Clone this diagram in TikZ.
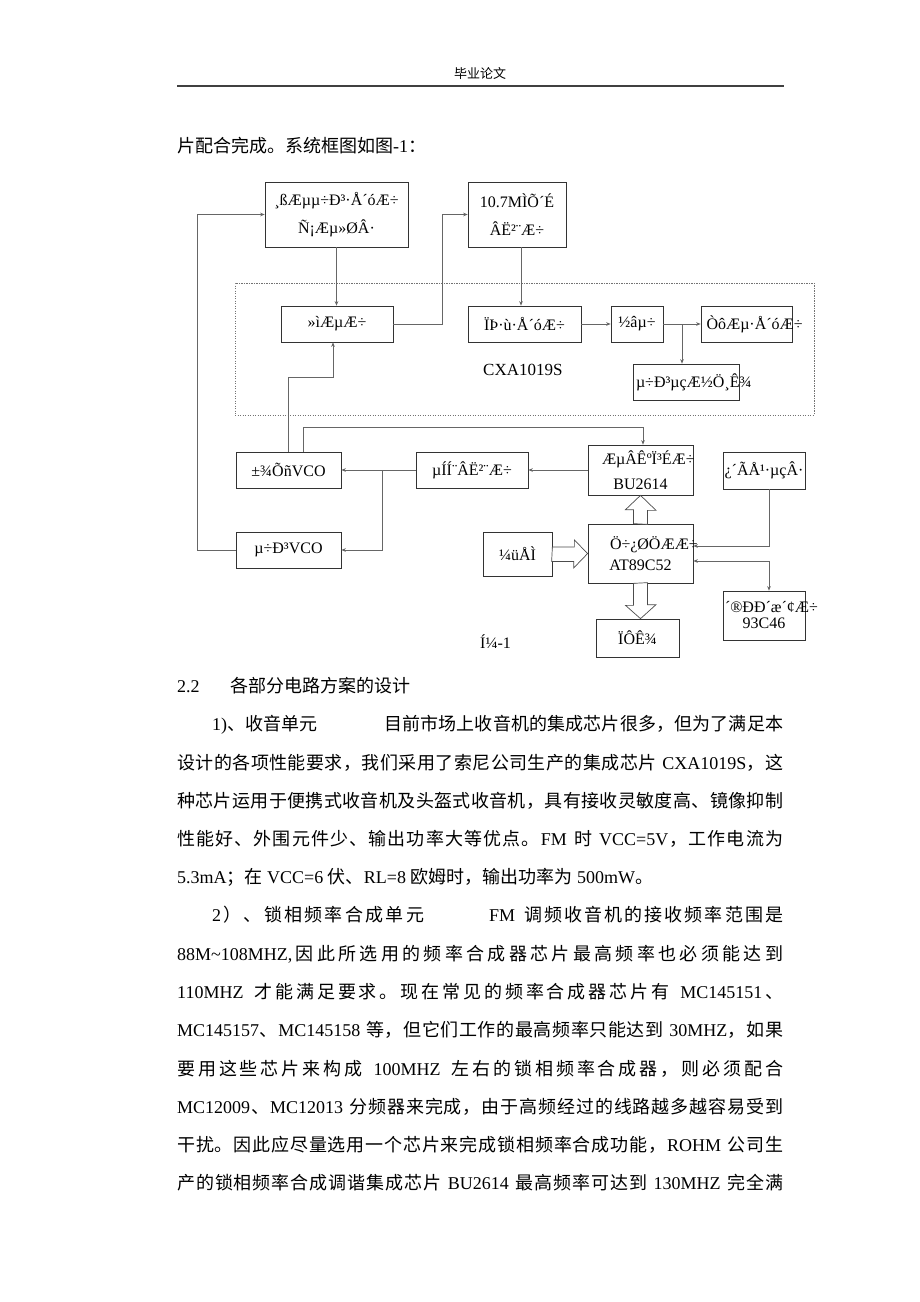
\documentclass[tikz,border=0pt]{standalone}
\usepackage{fontspec}
\setmainfont{Liberation Serif}
\newfontfamily\zhfont{Noto Sans CJK SC}
\usetikzlibrary{arrows.meta,calc}
% Chinese characters pick their own font
\XeTeXinterchartokenstate=1
\chardef\zhclass=10
\newcount\zhcnt
\zhcnt="4E00
\loop
  \XeTeXcharclass\zhcnt=\zhclass
  \advance\zhcnt by 1
\ifnum\zhcnt<"A000 \repeat
\XeTeXcharclass"3001=\zhclass
\XeTeXcharclass"3002=\zhclass
\XeTeXcharclass"FF0C=\zhclass
\XeTeXcharclass"FF1A=\zhclass
\XeTeXcharclass"FF1B=\zhclass
\XeTeXcharclass"FF09=\zhclass
\XeTeXinterchartoks 0 \zhclass={\zhfont\hskip0pt plus 1pt}
\XeTeXinterchartoks \zhclass 0={\hskip0pt plus 1pt\rmfamily}
\XeTeXinterchartoks 4095 \zhclass={\zhfont}
\XeTeXinterchartoks \zhclass 4095={\rmfamily}
\XeTeXinterchartoks \zhclass \zhclass={\hskip0pt plus 1pt}

\begin{document}
\begin{tikzpicture}[x=1pt, y=-1pt,
  blk/.style={draw=black!80, line width=0.7pt, inner sep=0pt, align=center, font=\fontsize{16}{19}\selectfont},
  frame/.style={draw=black!55, line width=0.7pt, dash pattern=on 1.2pt off 1.3pt, inner sep=0pt},
  con/.style={draw=black!60, line width=0.7pt, -{Stealth[length=4.5pt, width=3.6pt]}},
  fat/.style={draw=black!70, line width=0.7pt, fill=white, line join=miter},
  lbl/.style={inner sep=0pt, font=\fontsize{16}{19}\selectfont},
  bodyln/.style={anchor=base west, inner sep=0pt, font=\fontsize{18}{22}\selectfont}]
\fill[white] (0,0) rectangle (920,1302);
\useasboundingbox (0,0) rectangle (920,1302);
% Page header
\node[inner sep=0pt, font=\fontsize{13}{15}\selectfont] (hdr) at (480,74) {毕业论文};
\draw[line width=1.5pt, black!75] (177,86) -- (784,86);
\node[bodyln] (intro) at (177,152) {片配合完成。系统框图如图-1：};
% Receiver chip
\node[frame, minimum width=579, minimum height=132] (cxa) at (524.5,349) {};
\node[blk, minimum width=143, minimum height=65] (hfamp) at (336.5,214.5) {¸ßÆµµ÷Ð³·Å´óÆ÷\\[9pt]Ñ¡Æµ»ØÂ·};
\node[blk, minimum width=98, minimum height=65] (cerflt) at (517,214.5) {10.7MÌÕ´É\\[9pt]ÂË²¨Æ÷};
\node[blk, minimum width=112, minimum height=36] (mixer) at (337,324) {»ìÆµÆ÷};
\node[blk, minimum width=113, minimum height=36] (limamp) at (524.5,324) {ÏÞ·ù·Å´óÆ÷};
\node[blk, minimum width=52, minimum height=36] (demod) at (637,324) {½âµ÷};
\node[blk, minimum width=91, minimum height=36] (audamp) at (746.5,324) {\makebox[80pt][l]{ÒôÆµ·Å´óÆ÷}};
\node[blk, minimum width=106, minimum height=36] (tunind) at (686,382) {\makebox[100pt][l]{µ÷Ð³µçÆ½Ö¸Ê¾}};
\node[lbl, anchor=west, font=\fontsize{17}{20}\selectfont] (cxaname) at (483,370) {CXA1019S};
% PLL and controller
\node[blk, minimum width=105, minimum height=36] (lovco) at (288.5,470) {±¾ÕñVCO};
\node[blk, minimum width=112, minimum height=36] (lpf) at (472,470) {µÍÍ¨ÂË²¨Æ÷};
\node[blk, minimum width=105, minimum height=50] (synth) at (640.5,470) {\makebox[77pt][l]{ÆµÂÊºÏ³ÉÆ÷}\\[6pt]BU2614};
\node[blk, minimum width=82, minimum height=37] (wdog) at (764,470.5) {¿´ÃÅ¹·µçÂ·};
\node[blk, minimum width=105, minimum height=36] (tunvco) at (288.5,550) {µ÷Ð³VCO};
\node[blk, minimum width=69, minimum height=44] (keys) at (517.5,554) {¼üÅÌ};
\node[blk, minimum width=105, minimum height=59] (mcu) at (640.5,553.5) {\makebox[61pt][l]{Ö÷¿ØÖÆÆ÷}\\[2pt]AT89C52};
\node[blk, minimum width=83, minimum height=38] (disp) at (637.5,638) {ÏÔÊ¾};
\node[blk, minimum width=82, minimum height=49] (eeprom) at (764,615.5) {\makebox[78pt][l]{´®ÐÐ´æ´¢Æ÷}\\[-3pt]93C46};
\node[lbl, anchor=west] (figname) at (480,642) {Í¼-1};
% Signal lines
\draw[con] (hfamp.south) -- (hfamp.south |- mixer.north);
\draw[con] (mixer.east) -- ++(49,0) |- (cerflt.west);
\draw[con] ([xshift=4pt]cerflt.south) -- ([xshift=4pt]cerflt.south |- limamp.north);
\draw[con] (limamp.east) -- (demod.west);
\draw[con] (demod.east) -- (audamp.west);
\coordinate (aftap) at (682,324);
\draw[con] (aftap) -- (aftap |- tunind.north);
\draw[con] (lovco.north) -- ++(0,-74) -| ([xshift=-4pt]mixer.south);
\draw[con] ([xshift=14.5pt]lovco.north) -- ++(0,-24) -| ([xshift=2.5pt]synth.north);
\draw[con] (synth.west) -- (lpf.east);
\draw[con] (lpf.west) -- (lovco.east);
\coordinate (lpftap) at (382,470);
\draw[con] (lpftap) |- (tunvco.east);
\draw[con] (tunvco.west) -- ++(-38,0) |- (hfamp.west);
\draw[con] ([xshift=5pt]wdog.south) |- ([yshift=7.5pt]mcu.east);
\draw[con, {Stealth[length=4.5pt, width=3.6pt]}-{Stealth[length=4.5pt, width=3.6pt]}] ([yshift=-7.5pt]mcu.east) -| ([xshift=5pt]eeprom.north);
% Bus arrows
\draw[fat] (keys.east) ++(0,-7) -- ++(22,0) -- ++(0,-7) -- (mcu.west) -- ++(-14,14.5) -- ++(0,-6.5) -- ++(-22,0) -- cycle;
\draw[fat] (mcu.north) ++(-7,0) -- ++(0,-14) -- ++(-8,0) -- (synth.south) -- ++(15.5,15) -- ++(-8.5,0) -- ++(0,14) -- cycle;
\draw[fat] (mcu.south) ++(-7,0) -- ++(0,22) -- ++(-8,0) -- (mcu.south |- disp.north) -- ++(15.5,-14) -- ++(-8.5,0) -- ++(0,-22) -- cycle;
% Body text
\node[bodyln] (sec) at (177,692) {2.2};
\node[bodyln] (sectitle) at (230,692) {各部分电路方案的设计};
\node[bodyln] (p1a) at (212,730) {1)、收音单元};
\node[bodyln] (p1b) at (384,730) {\hbox to 399pt{目前市场上收音机的集成芯片很多，但为了满足本}};
\node[bodyln] (p1c) at (177,769) {\hbox to 606pt{设计的各项性能要求，我们采用了索尼公司生产的集成芯片 CXA1019S，这}};
\node[bodyln] (p1d) at (177,807) {\hbox to 606pt{种芯片运用于便携式收音机及头盔式收音机，具有接收灵敏度高、镜像抑制}};
\node[bodyln] (p1e) at (177,845) {\hbox to 606pt{性能好、外围元件少、输出功率大等优点。FM 时 VCC=5V，工作电流为}};
\node[bodyln] (p1f) at (177,883) {5.3mA；在 VCC=6 伏、RL=8 欧姆时，输出功率为 500mW。};
\node[bodyln] (p2a) at (212,921) {\hbox to 212pt{2）、锁相频率合成单元}};
\node[bodyln] (p2b) at (489,921) {\hbox to 294pt{FM 调频收音机的接收频率范围是}};
\node[bodyln] (p2c) at (177,960) {\hbox to 606pt{88M\textasciitilde108MHZ,因此所选用的频率合成器芯片最高频率也必须能达到}};
\node[bodyln] (p2d) at (177,998) {\hbox to 606pt{110MHZ 才能满足要求。现在常见的频率合成器芯片有 MC145151、}};
\node[bodyln] (p2e) at (177,1036) {\hbox to 606pt{MC145157、MC145158 等，但它们工作的最高频率只能达到 30MHZ，如果}};
\node[bodyln] (p2f) at (177,1075) {\hbox to 606pt{要用这些芯片来构成 100MHZ 左右的锁相频率合成器，则必须配合}};
\node[bodyln] (p2g) at (177,1113) {\hbox to 606pt{MC12009、MC12013 分频器来完成，由于高频经过的线路越多越容易受到}};
\node[bodyln] (p2h) at (177,1151) {\hbox to 606pt{干扰。因此应尽量选用一个芯片来完成锁相频率合成功能，ROHM 公司生}};
\node[bodyln] (p2i) at (177,1189) {\hbox to 606pt{产的锁相频率合成调谐集成芯片 BU2614 最高频率可达到 130MHZ 完全满}};
\end{tikzpicture}
\end{document}
